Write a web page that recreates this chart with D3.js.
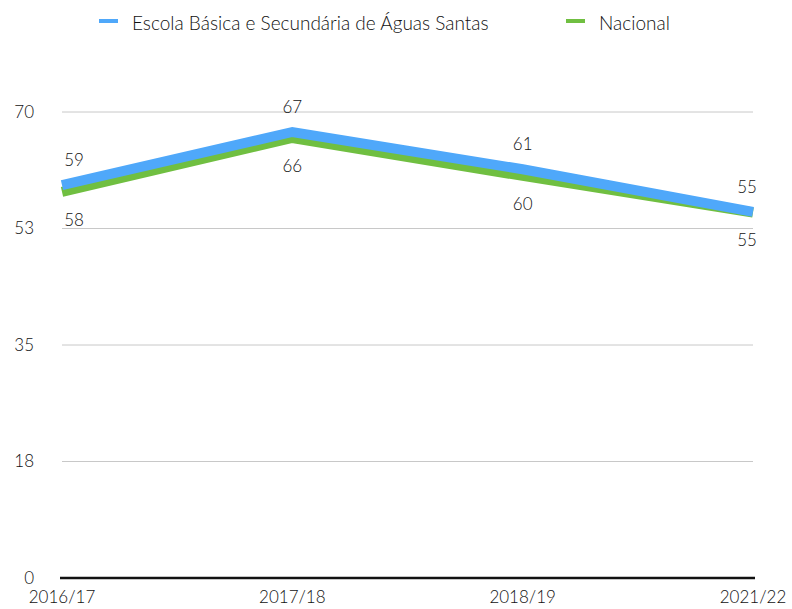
<!DOCTYPE html>
<html lang="pt">
<head>
<meta charset="UTF-8">
<script src="https://d3js.org/d3.v7.min.js"></script>
<style>
  body { margin: 0; background: #fff; }
  text { font-family: Lato, "Open Sans", sans-serif; font-weight: 300; fill: #111; }
</style>
</head>
<body>
<div id="chart"></div>
<script>
const years = ["2016/17", "2017/18", "2018/19", "2021/22"];
const escola = [59.0, 67.0, 61.4, 55.0];
const nacional = [58.0, 66.1, 60.4, 54.9];
const seriesNames = ["Escola Básica e Secundária de Águas Santas", "Nacional"];
const colors = ["#4fa8fa", "#70bf41"];
const yTicks = [0, 17.5, 35, 52.5, 70];

const width = 792, height = 609;
const margin = { top: 112, right: 39, bottom: 31, left: 62 };

const svg = d3.select("#chart").append("svg")
  .attr("width", width)
  .attr("height", height);

const x = d3.scalePoint()
  .domain(years)
  .range([margin.left, width - margin.right]);

const y = d3.scaleLinear()
  .domain([0, 70])
  .range([height - margin.bottom, margin.top]);

// grid lines
svg.append("g").selectAll("line")
  .data(yTicks.filter(d => d > 0))
  .enter().append("line")
  .attr("x1", margin.left)
  .attr("x2", width - margin.right)
  .attr("y1", d => y(d))
  .attr("y2", d => y(d))
  .attr("stroke", "#c8c8c8")
  .attr("stroke-width", 1);

// y tick labels
svg.append("g").selectAll("text")
  .data(yTicks)
  .enter().append("text")
  .attr("x", 34)
  .attr("y", d => y(d))
  .attr("dy", "0.35em")
  .attr("text-anchor", "end")
  .style("font-size", "17px")
  .text(d => Math.round(d));

// baseline
svg.append("line")
  .attr("x1", margin.left - 2)
  .attr("x2", width - margin.right + 2)
  .attr("y1", y(0))
  .attr("y2", y(0))
  .attr("stroke", "#111")
  .attr("stroke-width", 2.5);

// x labels
svg.append("g").selectAll("text")
  .data(years)
  .enter().append("text")
  .attr("x", d => x(d))
  .attr("y", y(0) + 19)
  .attr("dy", "0.35em")
  .attr("text-anchor", "middle")
  .style("font-size", "17px")
  .text(d => d);

const line = d3.line()
  .x((d, i) => x(years[i]))
  .y(d => y(d));

// green first, blue on top
svg.append("path")
  .datum(nacional)
  .attr("fill", "none")
  .attr("stroke", colors[1])
  .attr("stroke-width", 10)
  .attr("d", line);

svg.append("path")
  .datum(escola)
  .attr("fill", "none")
  .attr("stroke", colors[0])
  .attr("stroke-width", 10)
  .attr("d", line);

// data labels, kept inside the plot
function labelX(i) {
  const cx = x(years[i]);
  return Math.max(74, Math.min(747, cx));
}

svg.append("g").selectAll("text")
  .data(escola)
  .enter().append("text")
  .attr("x", (d, i) => labelX(i))
  .attr("y", d => y(d) - 25)
  .attr("dy", "0.35em")
  .attr("text-anchor", "middle")
  .style("font-size", "17px")
  .text(d => Math.round(d));

svg.append("g").selectAll("text")
  .data(nacional)
  .enter().append("text")
  .attr("x", (d, i) => labelX(i))
  .attr("y", d => y(d) + 28)
  .attr("dy", "0.35em")
  .attr("text-anchor", "middle")
  .style("font-size", "17px")
  .text(d => Math.round(d));

// legend
const legendX = [99, 566];
const legend = svg.append("g").selectAll("g")
  .data(seriesNames)
  .enter().append("g")
  .attr("transform", (d, i) => `translate(${legendX[i]},21)`);

legend.append("line")
  .attr("x1", 0)
  .attr("x2", 19)
  .attr("stroke", (d, i) => colors[i])
  .attr("stroke-width", 4);

legend.append("text")
  .attr("x", 33)
  .attr("y", 2)
  .attr("dy", "0.35em")
  .style("font-size", "19px")
  .text(d => d);
</script>
</body>
</html>
